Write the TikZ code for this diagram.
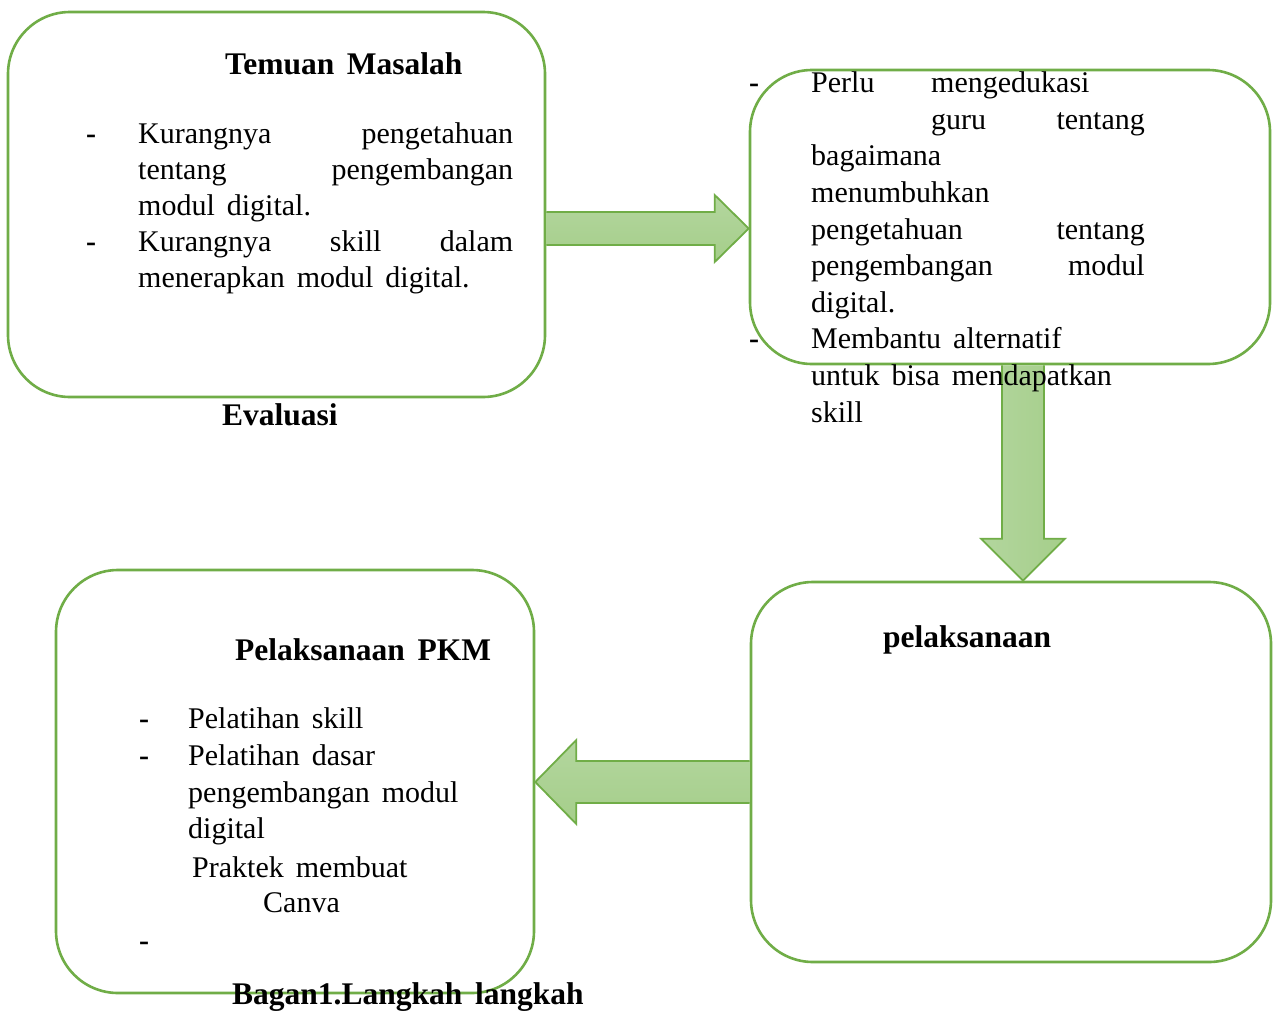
\documentclass[tikz,border=0pt]{standalone}
\usepackage{fontspec}
\setmainfont{Liberation Serif}[WordSpace=1.6]
\usetikzlibrary{calc}
\definecolor{gline}{HTML}{70AD47}
\definecolor{gfillA}{HTML}{B3D69E}
\definecolor{gfillB}{HTML}{A5CE8A}
\newcommand{\tx}{\fontsize{30}{36}\selectfont}
\newcommand{\bx}{\fontsize{31.5}{36}\selectfont\bfseries}
\newcommand{\jl}[2]{\hbox to #1pt{#2}}
\begin{document}
\begin{tikzpicture}[x=1pt,y=-1pt,
  box/.style={draw=gline, line width=2.6pt, rounded corners=62pt, fill=white, inner sep=0pt},
  blk/.style={draw=gline, line width=1.8pt, line join=miter, top color=gfillA, bottom color=gfillB},
  blkv/.style={draw=gline, line width=1.8pt, line join=miter, left color=gfillA, right color=gfillB},
  txt/.style={anchor=base west, inner sep=0pt, font=\tx},
  txte/.style={anchor=base east, inner sep=0pt, font=\tx},
  ttl/.style={anchor=base west, inner sep=0pt, font=\bx},
  dsh/.style={anchor=base west, inner sep=0pt, font=\tx\bfseries}]
\useasboundingbox (0,0) rectangle (1275,1012);
\fill[white] (0,0) rectangle (1275,1012);

% boxes
\node[box, minimum width=537pt, minimum height=385pt] (b1) at (276.5,204.5) {};
\node[box, minimum width=520pt, minimum height=294pt] (b2) at (1010,217) {};
\node[box, minimum width=520pt, minimum height=380pt] (b3) at (1011,772) {};
\node[box, minimum width=478pt, minimum height=423pt] (b4) at (295,781.5) {};

% block arrow b1 -> b2
\coordinate (a1s) at (b1.east |- 0,228.5);
\coordinate (a1e) at (b2.west |- 0,228.5);
\draw[blk] ($(a1s)+(0,-16.5)$) -- ($(a1e)+(-34,-16.5)$) -- ($(a1e)+(-34,-33.5)$) -- (a1e)
  -- ($(a1e)+(-34,33.5)$) -- ($(a1e)+(-34,16.5)$) -- ($(a1s)+(0,16.5)$);

% block arrow b2 -> b3
\coordinate (a2s) at (b2.south -| 1023,0);
\coordinate (a2e) at (b3.north -| 1023,0);
\draw[blkv] ($(a2s)+(-21,0)$) -- ($(a2e)+(-21,-42)$) -- ($(a2e)+(-42,-42)$) -- (a2e)
  -- ($(a2e)+(42,-42)$) -- ($(a2e)+(21,-42)$) -- ($(a2s)+(21,0)$);

% block arrow b3 -> b4
\coordinate (a3s) at (b3.west |- 0,782);
\coordinate (a3e) at (b4.east |- 0,782);
\draw[blk] ($(a3s)+(0,-21)$) -- ($(a3e)+(41,-21)$) -- ($(a3e)+(41,-42)$) -- (a3e)
  -- ($(a3e)+(41,42)$) -- ($(a3e)+(41,21)$) -- ($(a3s)+(0,21)$);

% box 1 text
\node[ttl] (t1) at (225,74) {Temuan Masalah};
\node[dsh] (d1) at (86,143) {-};
\node[txt] (t2) at (138,143) {\jl{375}{Kurangnya\hfill pengetahuan}};
\node[txt] (t3) at (138,179) {\jl{375}{tentang\hfill pengembangan}};
\node[txt] (t4) at (138,215) {modul digital.};
\node[dsh] (d2) at (86,251) {-};
\node[txt] (t5) at (138,251) {\jl{375}{Kurangnya\hfill skill\hfill dalam}};
\node[txt] (t6) at (138,287) {menerapkan modul digital.};
\node[ttl] (t7) at (222,425) {Evaluasi};

% box 2 text
\node[dsh] (d3) at (749,92) {-};
\node[txt] (u1) at (811,92) {Perlu};
\node[txt] (u2) at (931,92) {mengedukasi};
\node[txt] (u3) at (931,129.5) {guru};
\node[txte] (u4) at (1145,129.5) {tentang};
\node[txt] (u5) at (811,165.5) {bagaimana};
\node[txt] (u6) at (811,202) {menumbuhkan};
\node[txt] (u7) at (811,239.5) {pengetahuan};
\node[txte] (u8) at (1145,239.5) {tentang};
\node[txt] (u9) at (811,275.5) {pengembangan};
\node[txte] (u10) at (1145,275.5) {modul};
\node[txt] (u11) at (811,312) {digital.};
\node[dsh] (d4) at (749,348.5) {-};
\node[txt] (u12) at (811,348.5) {Membantu alternatif};
\node[txt] (u13) at (811,385.5) {untuk bisa mendapatkan};
\node[txt] (u14) at (811,422) {skill};

% box 3 text
\node[ttl] (v1) at (883,647) {pelaksanaan};

% box 4 text
\node[ttl] (w1) at (235,660) {Pelaksanaan PKM};
\node[dsh] (d5) at (139,728) {-};
\node[txt] (w2) at (188,728) {Pelatihan skill};
\node[dsh] (d6) at (139,765) {-};
\node[txt] (w3) at (188,765) {Pelatihan dasar};
\node[txt] (w4) at (188,802) {pengembangan modul};
\node[txt] (w5) at (188,838) {digital};
\node[txt] (w6) at (192,877) {Praktek membuat};
\node[txt] (w7) at (263,912) {Canva};
\node[dsh] (d7) at (139,950) {-};

% caption
\node[ttl] (c1) at (232,1004) {Bagan1.Langkah langkah};
\end{tikzpicture}
\end{document}
